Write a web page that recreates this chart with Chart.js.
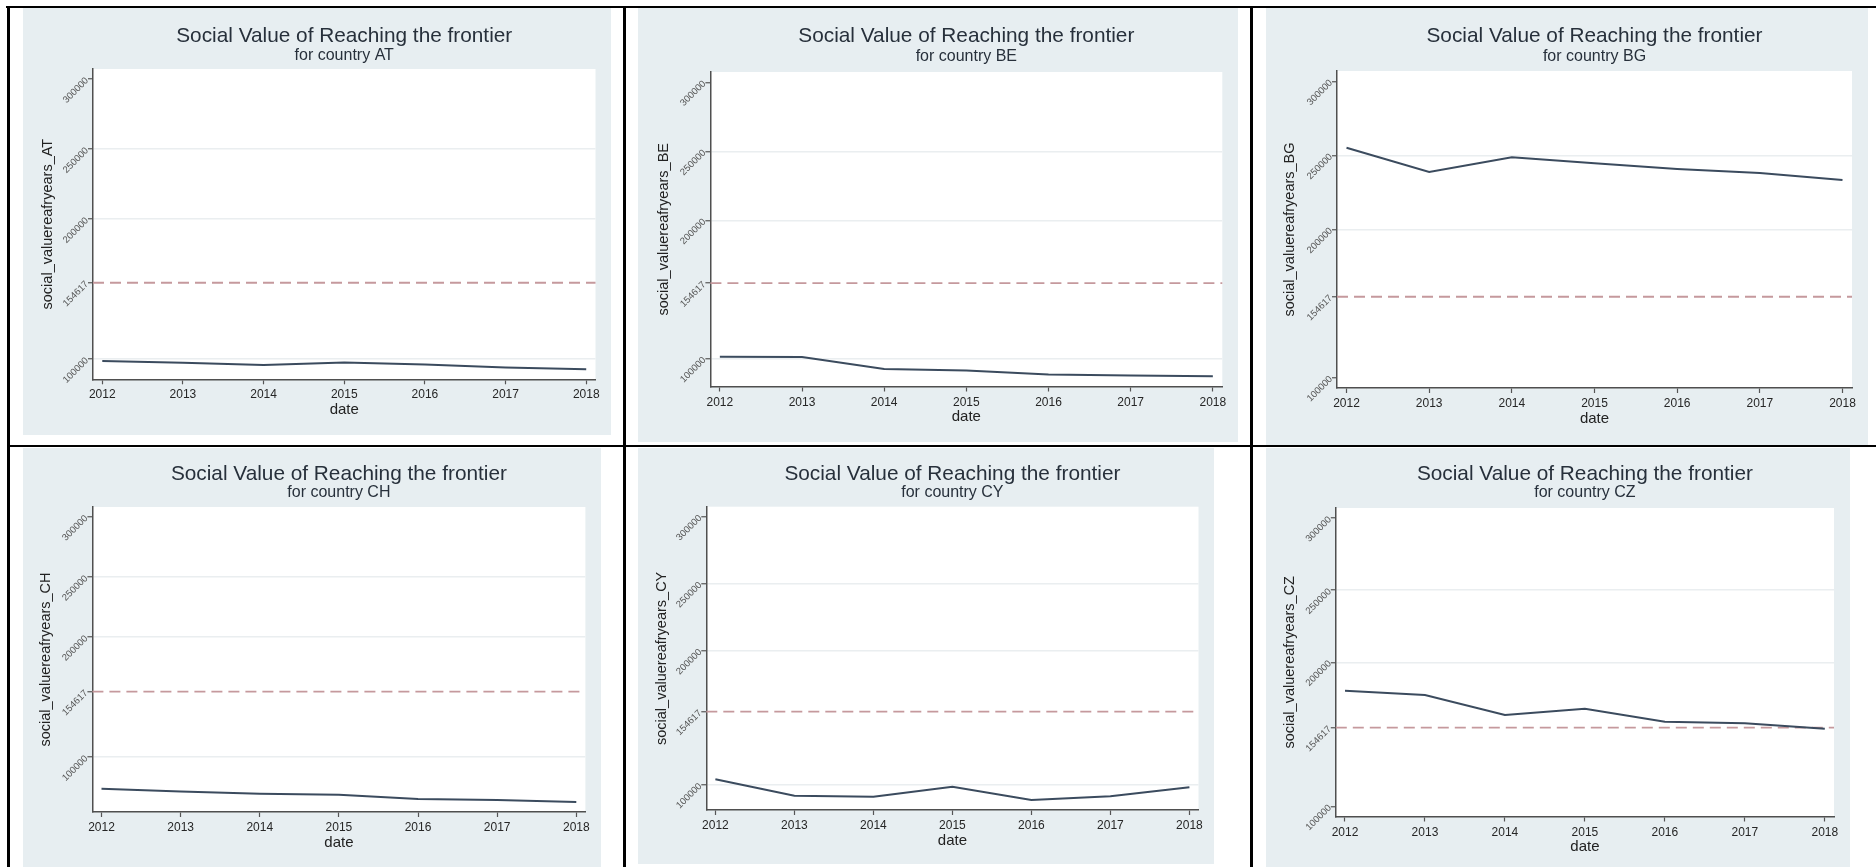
<!DOCTYPE html>
<html>
<head>
<meta charset="utf-8">
<script src="https://cdn.jsdelivr.net/npm/chart.js@4.4.0/dist/chart.umd.min.js"></script>
<style>
  html, body { margin: 0; padding: 0; background: #ffffff; }
  body { width: 1876px; height: 867px; position: relative; overflow: hidden; }
  .rule { position: absolute; background: #000000; }
  .panel { position: absolute; background: #e7eef1; }
  .panel canvas { display: block; }
</style>
</head>
<body>
<script>
// ---- data -------------------------------------------------------------
const years = [2012, 2013, 2014, 2015, 2016, 2017, 2018];
const yTickValues = [100000, 154617, 200000, 250000, 300000];
const frontierValue = 154617;

const valuesAT = [98800, 97400, 95900, 97600, 96200, 94100, 92900];
const valuesBE = [101400, 101200, 92600, 91400, 88500, 87800, 87300];
const valuesBG = [255200, 238900, 248800, 244800, 240900, 238100, 233400];
const valuesCH = [73800, 71500, 69600, 68800, 65200, 64400, 62700];
const valuesCY = [104200, 91800, 91100, 98500, 88600, 91400, 98100];
const valuesCZ = [180200, 177200, 163400, 167700, 158700, 157600, 153900];

// ---- page layout (pixel boxes of each graph cell) ----------------------
const panelBoxes = {
  AT: { bg: [23, 8, 611, 434.5],    plot: [93, 69, 595.5, 379.3],      titleY: 36.4,  subY: 55.5,  yTitleX: 48 },
  BE: { bg: [638, 8, 1238, 442],    plot: [710.4, 72, 1222.3, 386.5],  titleY: 36.4,  subY: 56.5,  yTitleX: 664 },
  BG: { bg: [1266, 8, 1868, 445],   plot: [1337, 71, 1852, 388],       titleY: 36.4,  subY: 57,    yTitleX: 1290 },
  CH: { bg: [23, 448, 601, 867],    plot: [92.4, 507, 585.4, 812],     titleY: 474.3, subY: 492.4, yTitleX: 46 },
  CY: { bg: [638, 448, 1214, 864],  plot: [706.3, 506.7, 1198.5, 810], titleY: 474.3, subY: 492.4, yTitleX: 662 },
  CZ: { bg: [1266, 448, 1850, 867], plot: [1335.8, 508, 1834, 816.5],  titleY: 474.3, subY: 492.4, yTitleX: 1290 }
};

const tableRules = [
  [6, 6, 1870, 2],     // top
  [7, 6, 3, 861],      // left
  [623, 6, 2.5, 861],  // column divider 1
  [1250, 6, 2.5, 861], // column divider 2
  [7, 445, 1869, 2.3]  // row divider
];

const FONT = "'Liberation Sans', Arial, Helvetica, sans-serif";
Chart.defaults.font.family = FONT;

tableRules.forEach(([x, y, w, h]) => {
  const d = document.createElement('div');
  d.className = 'rule';
  d.style.cssText = `left:${x}px;top:${y}px;width:${w}px;height:${h}px;`;
  document.body.appendChild(d);
});

// white plot region
const plotFill = {
  id: 'plotFill',
  beforeDraw(chart) {
    const { ctx, chartArea: a } = chart;
    ctx.save();
    ctx.fillStyle = '#ffffff';
    ctx.fillRect(a.left, a.top, a.right - a.left, a.bottom - a.top);
    ctx.restore();
  }
};

// dashed horizontal reference line at the frontier value
const frontierLine = {
  id: 'frontierLine',
  beforeDatasetsDraw(chart, args, opts) {
    const { ctx, chartArea: a, scales } = chart;
    const y = scales.y.getPixelForValue(opts.value);
    ctx.save();
    ctx.strokeStyle = opts.color;
    ctx.lineWidth = opts.width;
    ctx.setLineDash(opts.dash);
    ctx.beginPath();
    ctx.moveTo(a.left, y);
    ctx.lineTo(a.right, y);
    ctx.stroke();
    ctx.restore();
  }
};

function buildPanel(code, values) {
  const box = panelBoxes[code];
  const left = Math.round(box.bg[0]);
  const top = Math.round(box.bg[1]);
  const w = Math.round(box.bg[2] - box.bg[0]);
  const h = Math.round(box.bg[3] - box.bg[1]);
  const L = box.plot[0] - left, T = box.plot[1] - top;
  const R = box.plot[2] - left, B = box.plot[3] - top;

  const div = document.createElement('div');
  div.className = 'panel';
  div.style.cssText = `left:${left}px;top:${top}px;width:${w}px;height:${h}px;`;
  const cv = document.createElement('canvas');
  cv.width = w; cv.height = h;
  cv.style.width = w + 'px'; cv.style.height = h + 'px';
  div.appendChild(cv);
  document.body.appendChild(div);

  const titleSize = 20.8, subSize = 16, yTitleSize = 14.5, lh = 1.2;
  const titleC = box.titleY - top;
  const subC = box.subY - top;
  // title and subtitle boxes use a line height of one em
  const titlePadTop = titleC - titleSize / 2;
  const titleBottom = titleC + titleSize / 2;
  const subPadTop = (subC - subSize / 2) - titleBottom;
  const subPadBottom = T - (subC + subSize / 2);
  const xScaleH = 40;
  const yTitlePad = box.yTitleX - left - yTitleSize * lh / 2;

  const lo = Math.min(...values, yTickValues[0]);
  const hi = Math.max(...values, yTickValues[yTickValues.length - 1]);
  const margin = 0.035 * (hi - lo);

  const gridColor = (ctx) => {
    const s = ctx.scale;
    if (!ctx.tick || ctx.tick.value === frontierValue) return 'rgba(0,0,0,0)';
    const p = s.getPixelForValue(ctx.tick.value);
    if (p - s.top < 12 || s.bottom - p < 12) return 'rgba(0,0,0,0)';
    return '#eaeef0';
  };

  new Chart(cv, {
    type: 'line',
    data: {
      datasets: [{
        label: 'social_valuereafryears_' + code,
        data: years.map((yr, i) => ({ x: yr, y: values[i] })),
        borderColor: '#3b4b5e',
        borderWidth: 2,
        pointRadius: 0,
        tension: 0,
        fill: false
      }]
    },
    options: {
      responsive: false,
      animation: false,
      devicePixelRatio: 1,
      layout: { padding: { left: 0, top: 0, right: w - R, bottom: h - B - xScaleH } },
      plugins: {
        legend: { display: false },
        tooltip: { enabled: false },
        title: {
          display: true, fullSize: false,
          text: 'Social Value of Reaching the frontier',
          color: '#27303b',
          font: { size: titleSize, weight: 'normal', family: FONT, lineHeight: 1 },
          padding: { top: titlePadTop, bottom: 0 }
        },
        subtitle: {
          display: true, fullSize: false,
          text: 'for country ' + code,
          color: '#27303b',
          font: { size: subSize, weight: 'normal', family: FONT, lineHeight: 1 },
          padding: { top: subPadTop, bottom: subPadBottom }
        },
        frontierLine: { value: frontierValue, color: '#c5999d', width: 1.8, dash: [11, 6] }
      },
      scales: {
        x: {
          type: 'linear',
          min: years[0] - 0.115,
          max: years[years.length - 1] + 0.115,
          afterBuildTicks: (s) => { s.ticks = years.map(v => ({ value: v })); },
          afterFit: (s) => { s.height = xScaleH; },
          grid: { drawOnChartArea: false, drawTicks: true, tickLength: 5, tickColor: '#555555', tickWidth: 1.2 },
          border: { display: true, color: '#4f4f4f', width: 1.5 },
          ticks: {
            autoSkip: false, minRotation: 0, maxRotation: 0, padding: 3.5,
            color: '#262626', font: { size: 12, family: FONT },
            callback: (v) => String(v)
          },
          title: {
            display: true, text: 'date', color: '#222222',
            font: { size: 15, family: FONT, lineHeight: lh },
            padding: { top: 0, bottom: 0.5 }
          }
        },
        y: {
          type: 'linear',
          min: lo - margin,
          max: hi + margin,
          afterBuildTicks: (s) => { s.ticks = yTickValues.map(v => ({ value: v })); },
          afterFit: (s) => { s.width = L; },
          grid: { color: gridColor, lineWidth: 1.5, drawTicks: true, tickLength: 5, tickColor: '#555555', tickWidth: 1.2 },
          border: { display: true, color: '#4f4f4f', width: 1.5 },
          ticks: {
            autoSkip: false, minRotation: 45, maxRotation: 45, padding: 1,
            color: '#555555', font: { size: 9.5, family: FONT },
            callback: (v) => String(v)
          },
          title: {
            display: true, text: 'social_valuereafryears_' + code, color: '#222222',
            font: { size: yTitleSize, family: FONT, lineHeight: lh },
            padding: { top: yTitlePad, bottom: 0 }
          }
        }
      }
    },
    plugins: [plotFill, frontierLine]
  });
}

buildPanel('AT', valuesAT);
buildPanel('BE', valuesBE);
buildPanel('BG', valuesBG);
buildPanel('CH', valuesCH);
buildPanel('CY', valuesCY);
buildPanel('CZ', valuesCZ);
</script>
</body>
</html>
